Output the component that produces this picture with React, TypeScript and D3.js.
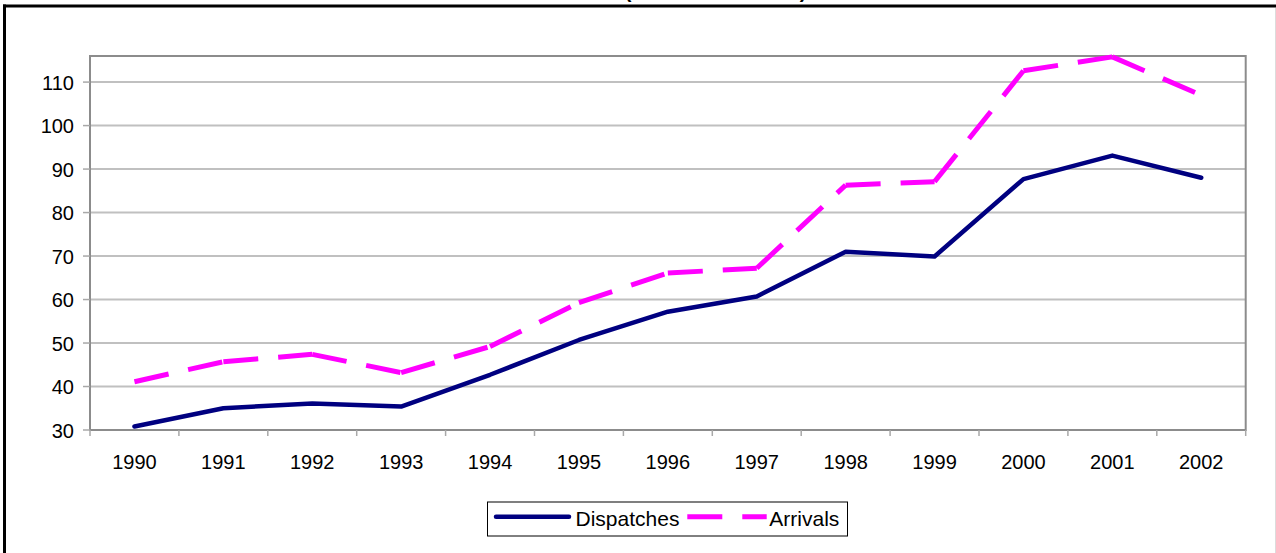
import React from "react";
import * as d3 from "d3";

// values
const years = ["1990", "1991", "1992", "1993", "1994", "1995", "1996", "1997", "1998", "1999", "2000", "2001", "2002"];
const dispatches = [30.8, 35.0, 36.1, 35.4, 42.7, 50.7, 57.2, 60.7, 71.0, 69.9, 87.7, 93.1, 88.0];
const arrivals = [41.1, 45.7, 47.4, 43.2, 49.2, 59.3, 66.1, 67.2, 86.3, 87.1, 112.6, 115.8, 107.0];
const yTicks = [30, 40, 50, 60, 70, 80, 90, 100, 110];
const yMin = 30;
const yMax = 116;

const W = 1276;
const H = 553;
const FONT = "'Liberation Sans', Arial, Helvetica, sans-serif";
const NAVY = "#000080";
const MAGENTA = "#FF00FF";

const plot = { left: 90, right: 1245.7, top: 56, bottom: 430 };

export default function App() {
  const x = d3.scaleBand<string>().domain(years).range([plot.left, plot.right]);
  const y = d3.scaleLinear().domain([yMin, yMax]).range([plot.bottom, plot.top]);
  const cx = (yr: string) => (x(yr) as number) + x.bandwidth() / 2;

  const line = d3
    .line<number>()
    .x((_, i) => cx(years[i]))
    .y((d) => y(d));

  // the dash pattern restarts on every segment in the original, so draw arrivals piecewise
  const arrivalSegs = arrivals.slice(1).map((v, i) => {
    const p = d3.path();
    p.moveTo(cx(years[i]), y(arrivals[i]));
    p.lineTo(cx(years[i + 1]), y(v));
    return p.toString();
  });

  const bounds = years.map((yr) => x(yr) as number).concat([plot.right]);

  return (
    <>
      <style>{`body{margin:0}`}</style>
      <svg width={W} height={H} style={{ display: "block", background: "#fff" }} fontFamily={FONT}>
        {/* chart title, cut off by the top edge in the original */}
        <text x={628} y={-2} fontSize={20} fontWeight="bold" textAnchor="middle">(</text>
        <text x={803} y={-2} fontSize={20} fontWeight="bold" textAnchor="middle">)</text>

        {/* outer chart border */}
        <line x1={3} x2={W} y1={6} y2={6} stroke="#000" strokeWidth={3} />
        <line x1={4.5} x2={4.5} y1={4.5} y2={H} stroke="#000" strokeWidth={3} />
        <line x1={1275.5} x2={1275.5} y1={8} y2={H} stroke="#dcdcdc" strokeWidth={1} />

        {/* gridlines */}
        {yTicks.map((t) => (
          <line key={t} x1={plot.left} x2={plot.right} y1={y(t)} y2={y(t)} stroke="#c0c0c0" strokeWidth={2} />
        ))}

        {/* plot frame */}
        <rect
          x={plot.left}
          y={plot.top}
          width={plot.right - plot.left}
          height={plot.bottom - plot.top}
          fill="none"
          stroke="#8c8c8c"
          strokeWidth={2}
        />

        {/* y axis */}
        {yTicks.map((t) => (
          <g key={"y" + t}>
            <line x1={plot.left - 7} x2={plot.left} y1={y(t)} y2={y(t)} stroke="#a8a8a8" strokeWidth={1.5} />
            <text x={74} y={y(t) + 7.5} fontSize={20} textAnchor="end" fill="#000">
              {t}
            </text>
          </g>
        ))}

        {/* x axis */}
        {bounds.map((b, i) => (
          <line key={"xt" + i} x1={b} x2={b} y1={plot.bottom} y2={plot.bottom + 6} stroke="#a8a8a8" strokeWidth={1.5} />
        ))}
        {years.map((yr) => (
          <text key={yr} x={cx(yr)} y={469} fontSize={20} textAnchor="middle" fill="#000">
            {yr}
          </text>
        ))}

        {/* series */}
        <path
          d={line(dispatches) as string}
          fill="none"
          stroke={NAVY}
          strokeWidth={4.5}
          strokeLinejoin="round"
          strokeLinecap="round"
        />
        {arrivalSegs.map((d, i) => (
          <path key={"a" + i} d={d} fill="none" stroke={MAGENTA} strokeWidth={5} strokeDasharray="35 20" />
        ))}

        {/* legend */}
        <rect x={487.5} y={502} width={360} height={34} fill="#fff" stroke="#000" strokeWidth={1} />
        <line x1={496} x2={569} y1={516.7} y2={516.7} stroke={NAVY} strokeWidth={4.5} strokeLinecap="round" />
        <text x={575.5} y={526} fontSize={21} fill="#000">Dispatches</text>
        <line x1={687.3} x2={766.7} y1={516.7} y2={516.7} stroke={MAGENTA} strokeWidth={5} strokeDasharray="35 20" />
        <text x={769.3} y={526} fontSize={21} fill="#000">Arrivals</text>
      </svg>
    </>
  );
}
